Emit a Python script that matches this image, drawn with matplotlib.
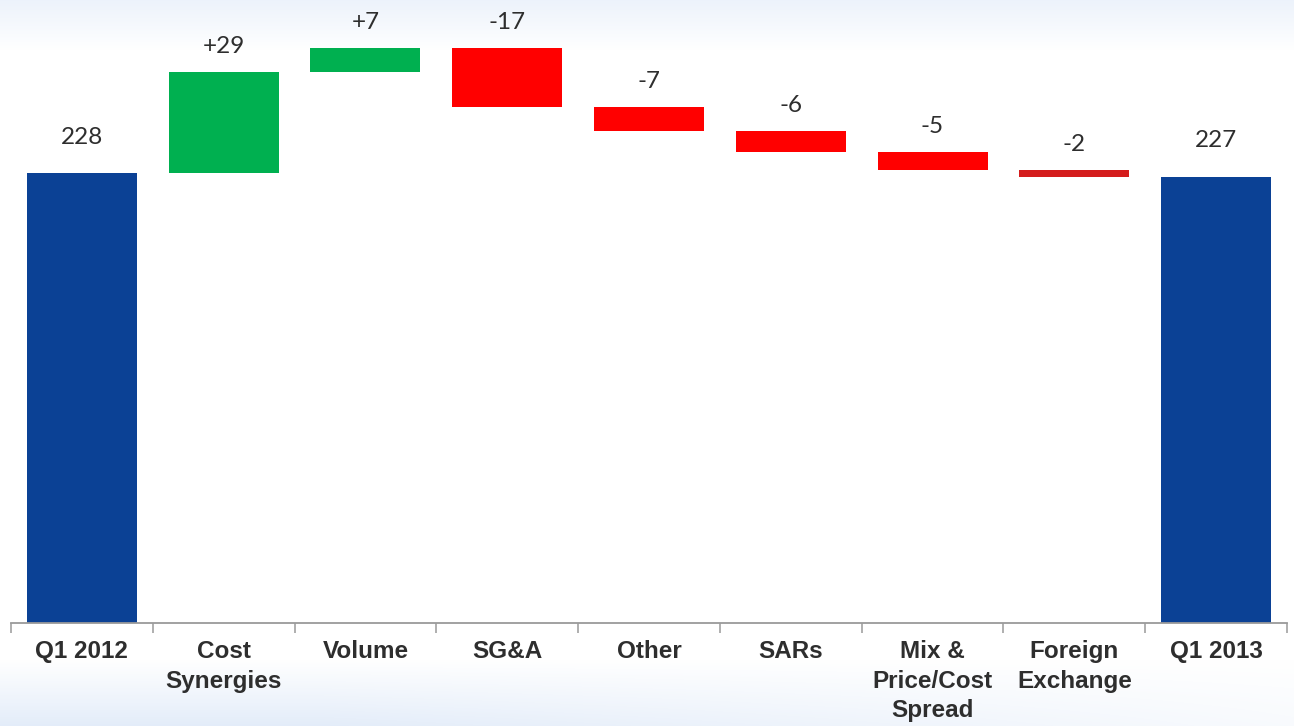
import numpy as np
import matplotlib
matplotlib.use("Agg")
import matplotlib.pyplot as plt
from matplotlib import font_manager

categories = ["Q1 2012", "Cost\nSynergies", "Volume", "SG&A", "Other", "SARs",
              "Mix &\nPrice/Cost\nSpread", "Foreign\nExchange", "Q1 2013"]
start_value = 228
deltas = [29, 7, -17, -7, -6, -5, -2]
end_value = 227
value_labels = ["228", "+29", "+7", "-17", "-7", "-6", "-5", "-2", "227"]

BLUE = "#0B4195"
GREEN = "#00B050"
RED = "#FF0000"
DARK_RED = "#D41C1C"
TEXT = "#2E2E2E"

# broken-style scale: totals compressed, movements stretched
BREAK = 200.0
LOW_K = 1.755
HIGH_K = 3.47


def _fwd(v):
    v = np.asarray(v, dtype=float)
    return np.where(v <= BREAK, v * LOW_K, BREAK * LOW_K + (v - BREAK) * HIGH_K)


def _inv(p):
    p = np.asarray(p, dtype=float)
    b = BREAK * LOW_K
    return np.where(p <= b, p / LOW_K, BREAK + (p - b) / HIGH_K)


def _pick(names):
    have = {f.name for f in font_manager.fontManager.ttflist}
    return [n for n in names if n in have] + ["DejaVu Sans"]


label_font = _pick(["Liberation Sans", "Arial"])
value_font = _pick(["Lato", "Open Sans"])

W, H = 1294, 726
fig = plt.figure(figsize=(W / 100, H / 100), dpi=100)

# background gradients (pale band on top, swoosh at the bottom left)
bg = fig.add_axes([0, 0, 1, 1], zorder=-10)
bg.set_axis_off()
yy = np.linspace(0, 1, H)[:, None]
xx = np.linspace(0, 1, W)[None, :]
top = np.clip(1 - yy * H / 50, 0, 1) * 0.06
bot = np.clip((yy * H - 660) / 66, 0, 1) * 0.09 * np.clip(1.25 - xx, 0, 1)
shade = np.clip(top + bot, 0, 1)
img = np.ones((H, W, 3))
img[..., 0] -= shade * 1.2
img[..., 1] -= shade * 0.8
img[..., 2] -= shade * 0.25
bg.imshow(np.clip(img, 0, 1), extent=[0, 1, 0, 1], aspect="auto", origin="upper")

ax_px = (11, 623, 1287, 27)  # left, baseline, right, top (pixels)
ax = fig.add_axes([ax_px[0] / W, (H - ax_px[1]) / H,
                   (ax_px[2] - ax_px[0]) / W, (ax_px[1] - ax_px[3]) / H])
ax.set_facecolor("none")
ax.set_yscale("function", functions=(_fwd, _inv))

x = np.arange(len(categories))
bottoms, heights, colors = [0], [start_value], [BLUE]
level = start_value
for i, d in enumerate(deltas):
    if d >= 0:
        bottoms.append(level)
        colors.append(GREEN)
    else:
        bottoms.append(level + d)
        colors.append(DARK_RED if i == len(deltas) - 1 else RED)
    heights.append(abs(d))
    level += d
bottoms.append(0)
heights.append(end_value)
colors.append(BLUE)

ax.bar(x, heights, bottom=bottoms, width=0.776, color=colors, edgecolor="none")

for i in range(len(categories)):
    top_v = bottoms[i] + heights[i]
    off = 26 if i in (0, len(categories) - 1) else 18.5
    ax.annotate(value_labels[i], (x[i], top_v), xytext=(0, off), textcoords="offset points",
                ha="center", va="center", fontsize=17.5, color=TEXT, family=value_font)

ax.set_xlim(-0.5, len(categories) - 0.5)
ax.set_ylim(0, 270)
ax.set_yticks([])
for s in ("left", "right", "top"):
    ax.spines[s].set_visible(False)
ax.spines["bottom"].set_color("#9a9a9a")
ax.spines["bottom"].set_linewidth(1.3)

ax.set_xticks(x)
ax.set_xticklabels(categories, fontsize=17.5, fontweight="bold", color=TEXT,
                   family=label_font, linespacing=1.38)
ax.tick_params(axis="x", which="major", length=0, pad=12)
ax.set_xticks(np.arange(-0.5, len(categories)), minor=True)
ax.tick_params(axis="x", which="minor", length=7, color="#9a9a9a", width=1.1)

fig.savefig("out.png", dpi=100)
